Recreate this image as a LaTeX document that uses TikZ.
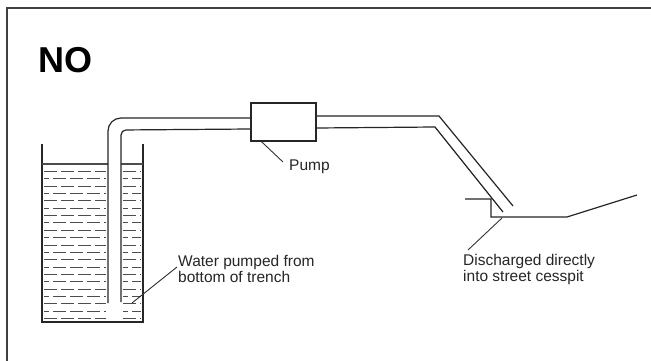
\documentclass[tikz,border=0pt]{standalone}
\usepackage{fontspec}
\setmainfont{Liberation Sans}
\begin{document}
\begin{tikzpicture}[x=1pt,y=-1pt,
  ln/.style={line width=1.2pt, draw=black!85},
  wl/.style={line width=1.3pt, draw=black!70},
  lbl/.style={inner sep=0pt, align=left, font=\fontsize{15.5}{14}\selectfont, text=black!85},
  leader/.style={line width=0.9pt, draw=black!80}]
\useasboundingbox (0,0) rectangle (651,361);
\clip (0,0) rectangle (651,361);
\fill[white] (0,0) rectangle (651,361);
% frame
\draw[line width=2pt, draw=black!75] (7,8) rectangle (680,400);
% title
\node[anchor=base west, inner sep=0pt, font=\fontsize{36}{36}\bfseries\selectfont] (title) at (38,73) {NO};
% trench walls and bottom
\draw[ln] (42,144) -- (42,322) -- (143,322) -- (143,144);
% water surface
\draw[wl] (42,164) -- (108,164);
\draw[wl] (121,164) -- (143,164);
% water dashes
\foreach \i in {0,...,20}{
  \pgfmathsetmacro{\yy}{round(171+7.35*\i)+0.5}
  \pgfmathsetmacro{\ph}{mod(\i,2)*8}
  \draw[wl, dash pattern=on 13pt off 4pt, dash phase=\ph pt] (44,\yy) -- (106,\yy);
  \draw[wl, dash pattern=on 13pt off 4pt, dash phase=\ph pt] (123,\yy) -- (141,\yy);
}
% pump
\node[draw=black!85, line width=1.2pt, fill=white, minimum width=65pt, minimum height=38pt, inner sep=0pt] (pump) at (283.5,122) {};
% pipe left
\draw[ln, rounded corners=13pt] (108,303) -- (108,118) -- ([yshift=4pt]pump.west);
\draw[ln, rounded corners=5pt] (121,302) -- (121,130) -- ([yshift=-7pt]pump.west);
% pipe right
\draw[ln] ([yshift=6pt]pump.east) -- (439,116) -- (513,206);
\draw[ln] ([yshift=-6pt]pump.east) -- (435,127) -- (503,212);
% cesspit and street
\draw[ln] (465,199) -- (491,199) -- (491,217) -- (567,217) -- (637,195);
% labels
\node[lbl, anchor=base west] (pumplbl) at (289,170) {Pump};
\node[lbl, anchor=base west] (waterlbl) at (178,282) {Water pumped from\\bottom of trench};
\node[lbl, anchor=base west] (dischlbl) at (463,281) {Discharged directly\\into street cesspit};
% leaders
\coordinate (pumpfoot) at ([xshift=11pt]pump.south west);
\coordinate (waterend) at (132,303);
\coordinate (dischend) at (502,218);
\draw[leader] (pumpfoot) -- (283,162);
\draw[leader] (waterend) -- (177,267);
\draw[leader] (dischend) -- (468,250);
\end{tikzpicture}
\end{document}
